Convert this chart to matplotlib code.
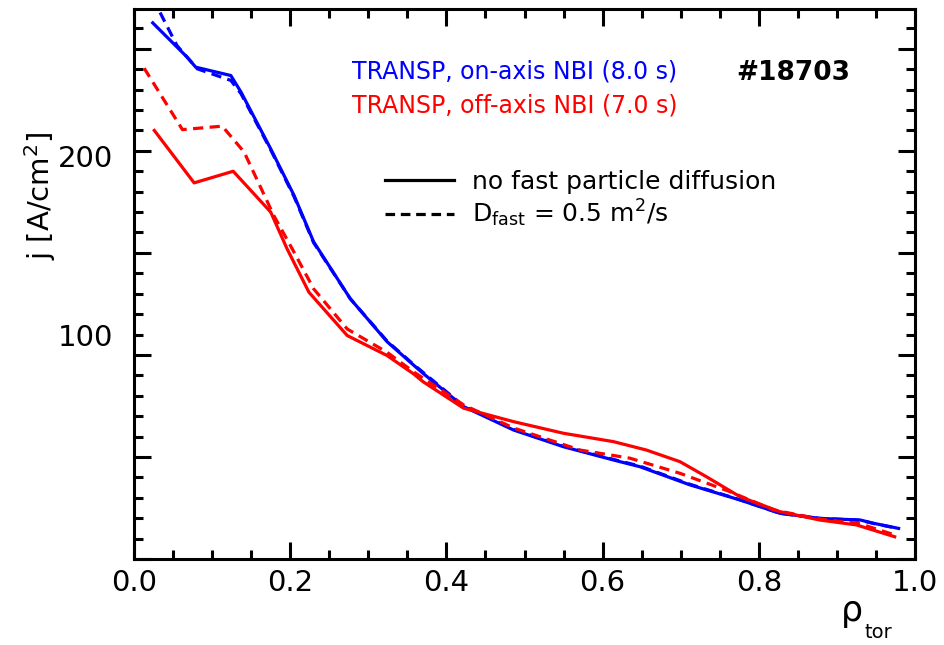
import matplotlib
matplotlib.use('Agg')
import matplotlib.pyplot as plt
from matplotlib.lines import Line2D
from matplotlib.ticker import MultipleLocator, NullFormatter, FixedLocator

plt.rcParams['font.family'] = ['DejaVu Sans']
plt.rcParams['mathtext.fontset'] = 'dejavusans'

# ---- data ----
rho_on_solid = [0.024, 0.068, 0.079, 0.124, 0.137, 0.175, 0.205, 0.230, 0.277, 0.324,
                0.358, 0.370, 0.422, 0.486, 0.550, 0.614, 0.648, 0.712, 0.776, 0.827,
                0.878, 0.930, 0.947, 0.979]
j_on_solid = [262.7, 245.9, 241.0, 236.9, 228.8, 201.0, 178.1, 155.4, 127.5, 106.5,
              95.0, 91.0, 74.7, 63.2, 55.0, 48.5, 45.2, 36.3, 28.9, 22.4,
              19.9, 19.1, 17.5, 15.0]

rho_on_dash = [0.020, 0.032, 0.055, 0.081, 0.124, 0.137, 0.175, 0.205, 0.230, 0.277,
               0.324, 0.358, 0.422, 0.486, 0.550, 0.614, 0.648, 0.712, 0.776, 0.827,
               0.878, 0.930, 0.947, 0.979]
j_on_dash = [275.0, 268.8, 251.6, 240.2, 234.5, 228.0, 200.5, 177.5, 155.0, 127.5,
             106.8, 95.3, 75.0, 63.5, 55.3, 48.8, 45.5, 36.6, 29.0, 22.4,
             19.9, 19.0, 17.4, 14.9]

rho_off_solid = [0.026, 0.077, 0.127, 0.175, 0.196, 0.224, 0.273, 0.324, 0.358, 0.370,
                 0.422, 0.486, 0.550, 0.614, 0.656, 0.699, 0.733, 0.776, 0.827, 0.878,
                 0.925, 0.974]
j_off_solid = [210.0, 184.3, 190.0, 170.0, 152.0, 130.7, 109.5, 99.7, 90.7, 86.9,
               73.9, 67.3, 61.6, 57.5, 53.4, 47.7, 40.3, 30.5, 23.2, 19.1,
               16.7, 10.9]

rho_off_dash = [0.013, 0.062, 0.113, 0.141, 0.179, 0.205, 0.230, 0.273, 0.324, 0.358,
                0.422, 0.486, 0.571, 0.635, 0.699, 0.763, 0.819, 0.878, 0.930, 0.974]
j_off_dash = [240.5, 210.4, 212.1, 199.4, 168.3, 150.3, 132.4, 112.7, 101.3, 91.7,
              75.5, 64.2, 53.4, 49.4, 42.0, 33.0, 24.0, 19.6, 17.2, 11.8]

ytick_labels = ['200', '100']
ytick_label_pos = [196.0, 108.5]
xtick_vals = [0.0, 0.2, 0.4, 0.6, 0.8, 1.0]

BLUE = '#0000ff'
RED = '#ff0000'
LW = 2.3
DASH = (0, (3.2, 2.0))

fig = plt.figure(figsize=(9.44, 6.45), dpi=100)
ax = fig.add_axes([134/944, 1 - 559/645, (915 - 134)/944, (559 - 9)/645])

ax.plot(rho_on_solid, j_on_solid, color=BLUE, lw=LW, solid_joinstyle='round')
ax.plot(rho_on_dash, j_on_dash, color=BLUE, lw=LW, linestyle=DASH)
ax.plot(rho_off_solid, j_off_solid, color=RED, lw=LW, solid_joinstyle='round')
ax.plot(rho_off_dash, j_off_dash, color=RED, lw=LW, linestyle=DASH)

ax.set_xlim(0, 1.0)
ax.set_ylim(0, 269.5)

for s in ax.spines.values():
    s.set_linewidth(2.2)

ax.xaxis.set_major_locator(FixedLocator(xtick_vals))
ax.xaxis.set_minor_locator(MultipleLocator(0.05))
ax.yaxis.set_major_locator(MultipleLocator(50))
ax.yaxis.set_minor_locator(MultipleLocator(10))
ax.yaxis.set_major_formatter(NullFormatter())
ax.set_xticklabels([f'{v:.1f}' for v in xtick_vals])
ax.tick_params(which='both', direction='in', top=True, right=True, width=2.2)
ax.tick_params(which='major', length=12)
ax.tick_params(which='minor', length=6.5)
ax.tick_params(axis='x', labelsize=21, pad=7)

ytr = ax.get_yaxis_transform()
for lab, pos in zip(ytick_labels, ytick_label_pos):
    ax.text(-0.027, pos, lab, transform=ytr, ha='right', va='center', fontsize=21)

fig.text(40/944, 1 - 196/645, 'j [A/cm$^2$]', rotation=90, ha='center', va='center', fontsize=21)
fig.text(852/944, 1 - 611/645, 'ρ', ha='center', va='center', fontsize=25)
fig.text(878/944, 1 - 632/645, 'tor', ha='center', va='center', fontsize=14)

ax.text((352 - 134)/781, (559 - 72)/550, 'TRANSP, on-axis NBI (8.0 s)', transform=ax.transAxes,
        color=BLUE, fontsize=17, ha='left', va='center')
ax.text((352 - 134)/781, (559 - 106)/550, 'TRANSP, off-axis NBI (7.0 s)', transform=ax.transAxes,
        color=RED, fontsize=17, ha='left', va='center')
ax.text((736 - 134)/781, (559 - 73)/550, '#18703', transform=ax.transAxes,
        color='black', fontsize=19, fontweight='bold', ha='left', va='center')

handles = [Line2D([], [], color='black', lw=LW),
           Line2D([], [], color='black', lw=LW, linestyle=(0, (3.0, 1.8)))]
labels = ['no fast particle diffusion', 'D$_{\\rm fast}$ = 0.5 m$^2$/s']
leg = ax.legend(handles, labels, loc='upper left',
                bbox_to_anchor=((385 - 134)/781, (559 - 170)/550),
                frameon=False, fontsize=18, handlelength=2.75, handletextpad=0.75,
                labelspacing=0.15, borderpad=0, borderaxespad=0)

fig.savefig('out.png', dpi=100)
